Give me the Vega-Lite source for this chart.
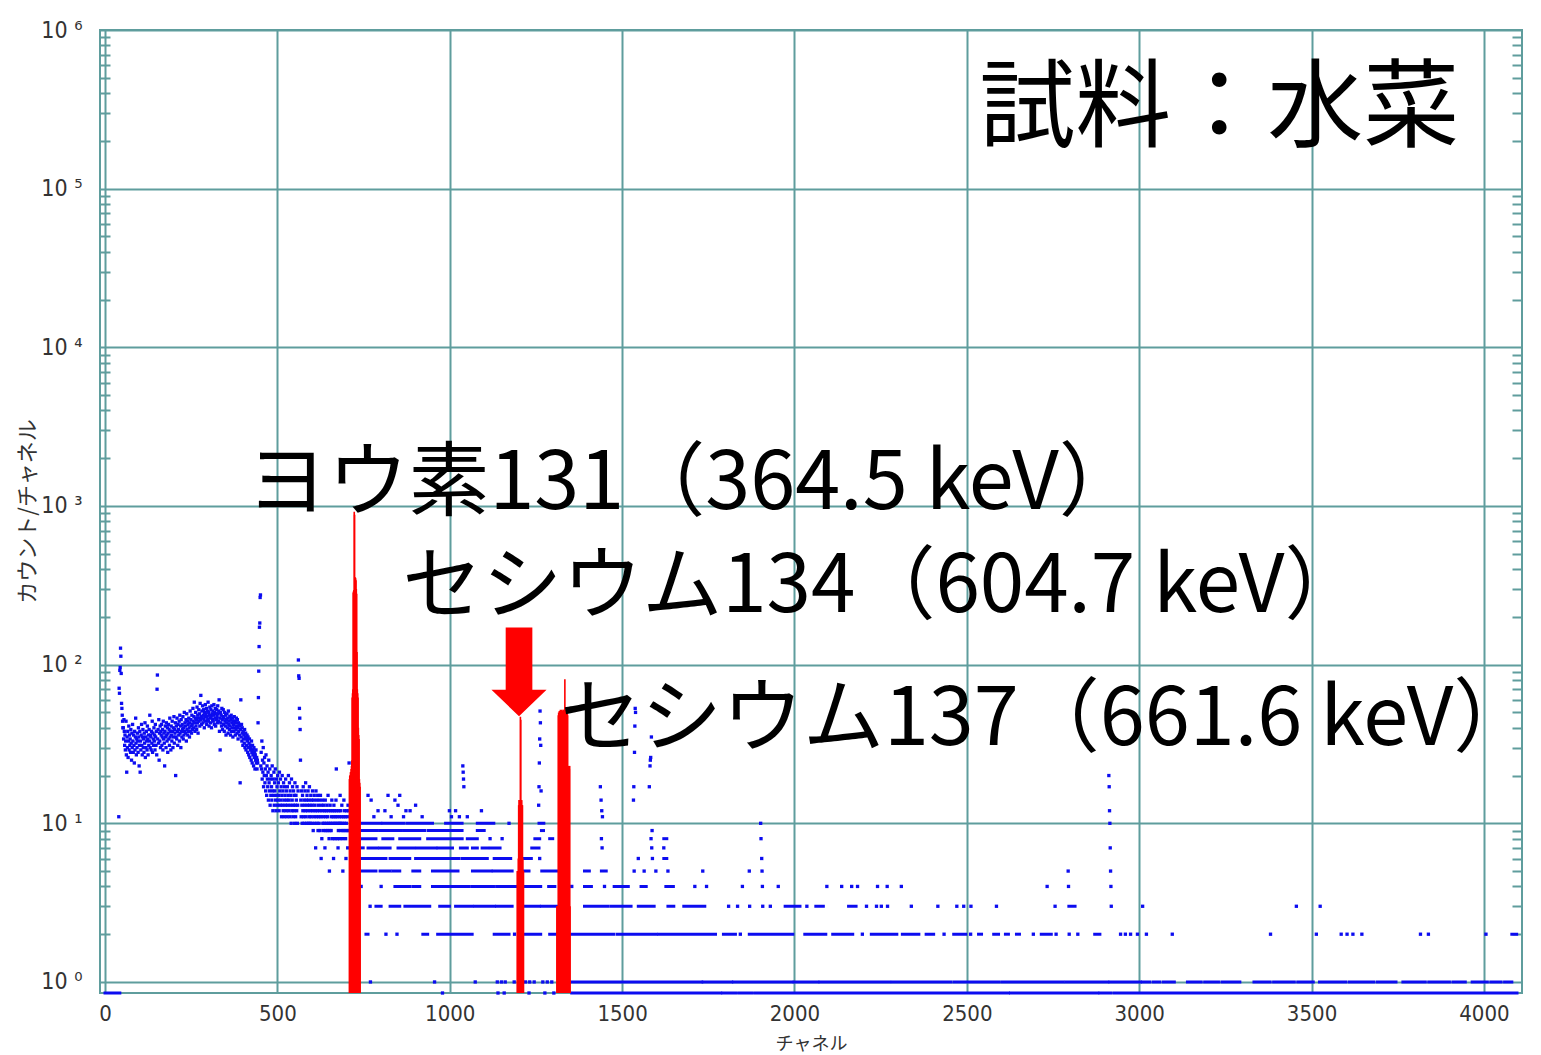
{
  "$schema": "https://vega.github.io/schema/vega-lite/v6.json",
  "width": 1422,
  "height": 963,
  "autosize": {"type": "none"},
  "padding": {"left": 100, "top": 30, "right": 19, "bottom": 62},
  "background": "white",
  "config": {
    "view": {"stroke": "#5f9d9d", "strokeWidth": 2},
    "axis": {
      "domain": false,
      "gridColor": "#5f9d9d",
      "gridWidth": 2,
      "gridOpacity": 1,
      "tickColor": "#5f9d9d",
      "tickWidth": 2,
      "labelFont": "Liberation Sans Narrow, DejaVu Sans Condensed, Liberation Sans",
      "labelColor": "#333333",
      "titleFont": "Noto Sans CJK JP",
      "titleFontWeight": "normal",
      "titleColor": "#333333"
    }
  },
  "datasets": {
    "counts": [
      {"c":40,"n":11},{"c":41,"n":71},{"c":42,"n":66},{"c":43,"n":92},{"c":44,"n":96},{"c":45,"n":127},{"c":46,"n":113},{"c":47,"n":88},{"c":48,"n":57},{"c":49,"n":53},{"c":50,"n":48},{"c":51,"n":44},{"c":52,"n":40},
      {"c":53,"n":40},{"c":54,"n":34},{"c":55,"n":45},{"c":56,"n":38},{"c":57,"n":31},{"c":58,"n":36},{"c":59,"n":29},{"c":60,"n":33},{"c":61,"n":44},{"c":62,"n":27},
      {"c":63,"n":21},{"c":64,"n":35},{"c":65,"n":30},{"c":66,"n":38},{"c":67,"n":26},{"c":68,"n":33},{"c":69,"n":41},{"c":70,"n":29},{"c":71,"n":36},{"c":72,"n":31},
      {"c":73,"n":34},{"c":74,"n":28},{"c":75,"n":39},{"c":76,"n":32},{"c":77,"n":25},{"c":78,"n":37},{"c":79,"n":30},{"c":80,"n":42},{"c":81,"n":33},{"c":82,"n":28},
      {"c":83,"n":36},{"c":84,"n":31},{"c":85,"n":24},{"c":86,"n":38},{"c":87,"n":29},{"c":88,"n":35},{"c":89,"n":46},{"c":90,"n":32},{"c":91,"n":27},{"c":92,"n":34},
      {"c":93,"n":30},{"c":94,"n":37},{"c":95,"n":33},{"c":96,"n":28},{"c":97,"n":40},{"c":98,"n":35},{"c":99,"n":23},{"c":100,"n":31},{"c":101,"n":38},{"c":102,"n":21},
      {"c":103,"n":33},{"c":104,"n":29},{"c":105,"n":36},{"c":106,"n":42},{"c":107,"n":31},{"c":108,"n":27},{"c":109,"n":35},{"c":110,"n":39},{"c":111,"n":30},{"c":112,"n":34},
      {"c":113,"n":28},{"c":114,"n":37},{"c":115,"n":32},{"c":116,"n":43},{"c":117,"n":26},{"c":118,"n":35},{"c":119,"n":30},{"c":120,"n":38},{"c":121,"n":33},{"c":122,"n":29},
      {"c":123,"n":41},{"c":124,"n":34},{"c":125,"n":27},{"c":126,"n":36},{"c":127,"n":31},{"c":128,"n":39},{"c":129,"n":33},{"c":130,"n":48},{"c":131,"n":30},{"c":132,"n":36},
      {"c":133,"n":35},{"c":134,"n":29},{"c":135,"n":38},{"c":136,"n":32},{"c":137,"n":44},{"c":138,"n":28},{"c":139,"n":37},{"c":140,"n":34},{"c":141,"n":31},{"c":142,"n":40},
      {"c":143,"n":33},{"c":144,"n":36},{"c":145,"n":29},{"c":146,"n":42},{"c":147,"n":35},{"c":148,"n":31},{"c":149,"n":38},{"c":150,"n":27},{"c":151,"n":70},{"c":152,"n":86},
      {"c":153,"n":34},{"c":154,"n":39},{"c":155,"n":32},{"c":156,"n":45},{"c":157,"n":25},{"c":158,"n":37},{"c":159,"n":33},{"c":160,"n":41},{"c":161,"n":30},{"c":162,"n":38},
      {"c":163,"n":36},{"c":164,"n":42},{"c":165,"n":31},{"c":166,"n":35},{"c":167,"n":39},{"c":168,"n":29},{"c":169,"n":44},{"c":170,"n":34},{"c":171,"n":37},{"c":172,"n":32},
      {"c":173,"n":23},{"c":174,"n":38},{"c":175,"n":41},{"c":176,"n":35},{"c":177,"n":30},{"c":178,"n":43},{"c":179,"n":36},{"c":180,"n":33},{"c":181,"n":40},{"c":182,"n":28},
      {"c":183,"n":37},{"c":184,"n":42},{"c":185,"n":34},{"c":186,"n":39},{"c":187,"n":31},{"c":188,"n":46},{"c":189,"n":35},{"c":190,"n":38},{"c":191,"n":29},{"c":192,"n":41},
      {"c":193,"n":36},{"c":194,"n":33},{"c":195,"n":44},{"c":196,"n":38},{"c":197,"n":30},{"c":198,"n":40},{"c":199,"n":35},{"c":200,"n":47},{"c":201,"n":32},{"c":202,"n":39},
      {"c":203,"n":37},{"c":204,"n":43},{"c":205,"n":20},{"c":206,"n":35},{"c":207,"n":41},{"c":208,"n":34},{"c":209,"n":46},{"c":210,"n":38},{"c":211,"n":31},{"c":212,"n":42},
      {"c":213,"n":39},{"c":214,"n":36},{"c":215,"n":44},{"c":216,"n":33},{"c":217,"n":48},{"c":218,"n":37},{"c":219,"n":41},{"c":220,"n":30},{"c":221,"n":45},{"c":222,"n":38},
      {"c":223,"n":35},{"c":224,"n":42},{"c":225,"n":39},{"c":226,"n":47},{"c":227,"n":34},{"c":228,"n":40},{"c":229,"n":36},{"c":230,"n":50},{"c":231,"n":38},{"c":232,"n":43},
      {"c":233,"n":41},{"c":234,"n":37},{"c":235,"n":45},{"c":236,"n":33},{"c":237,"n":49},{"c":238,"n":39},{"c":239,"n":44},{"c":240,"n":36},{"c":241,"n":42},{"c":242,"n":38},
      {"c":243,"n":46},{"c":244,"n":40},{"c":245,"n":35},{"c":246,"n":43},{"c":247,"n":51},{"c":248,"n":38},{"c":249,"n":45},{"c":250,"n":41},{"c":251,"n":37},{"c":252,"n":48},
      {"c":253,"n":42},{"c":254,"n":39},{"c":255,"n":53},{"c":256,"n":44},{"c":257,"n":40},{"c":258,"n":47},{"c":259,"n":58},{"c":260,"n":43},{"c":261,"n":38},{"c":262,"n":46},
      {"c":263,"n":50},{"c":264,"n":41},{"c":265,"n":45},{"c":266,"n":39},{"c":267,"n":54},{"c":268,"n":43},{"c":269,"n":48},{"c":270,"n":37},{"c":271,"n":46},{"c":272,"n":52},
      {"c":273,"n":44},{"c":274,"n":49},{"c":275,"n":41},{"c":276,"n":57},{"c":277,"n":45},{"c":278,"n":64},{"c":279,"n":47},{"c":280,"n":42},{"c":281,"n":51},{"c":282,"n":46},
      {"c":283,"n":55},{"c":284,"n":43},{"c":285,"n":48},{"c":286,"n":52},{"c":287,"n":45},{"c":288,"n":40},{"c":289,"n":50},{"c":290,"n":47},{"c":291,"n":56},{"c":292,"n":44},
      {"c":293,"n":49},{"c":294,"n":53},{"c":295,"n":42},{"c":296,"n":47},{"c":297,"n":51},{"c":298,"n":45},{"c":299,"n":58},{"c":300,"n":44},{"c":301,"n":50},{"c":302,"n":41},
      {"c":303,"n":48},{"c":304,"n":54},{"c":305,"n":46},{"c":306,"n":43},{"c":307,"n":52},{"c":308,"n":47},{"c":309,"n":40},{"c":310,"n":55},{"c":311,"n":49},{"c":312,"n":45},
      {"c":313,"n":51},{"c":314,"n":44},{"c":315,"n":48},{"c":316,"n":56},{"c":317,"n":42},{"c":318,"n":50},{"c":319,"n":46},{"c":320,"n":53},{"c":321,"n":41},{"c":322,"n":49},
      {"c":323,"n":45},{"c":324,"n":52},{"c":325,"n":47},{"c":326,"n":43},{"c":327,"n":55},{"c":328,"n":49},{"c":329,"n":44},{"c":330,"n":51},{"c":331,"n":60},{"c":332,"n":38},
      {"c":333,"n":46},{"c":334,"n":29},{"c":335,"n":50},{"c":336,"n":43},{"c":337,"n":48},{"c":338,"n":41},{"c":339,"n":53},{"c":340,"n":45},{"c":341,"n":39},{"c":342,"n":47},
      {"c":343,"n":52},{"c":344,"n":42},{"c":345,"n":46},{"c":346,"n":38},{"c":347,"n":50},{"c":348,"n":44},{"c":349,"n":41},{"c":350,"n":48},{"c":351,"n":36},{"c":352,"n":45},
      {"c":353,"n":43},{"c":354,"n":49},{"c":355,"n":40},{"c":356,"n":46},{"c":357,"n":37},{"c":358,"n":51},{"c":359,"n":42},{"c":360,"n":44},{"c":361,"n":39},{"c":362,"n":47},
      {"c":363,"n":41},{"c":364,"n":36},{"c":365,"n":45},{"c":366,"n":48},{"c":367,"n":38},{"c":368,"n":43},{"c":369,"n":40},{"c":370,"n":46},{"c":371,"n":35},{"c":372,"n":44},
      {"c":373,"n":42},{"c":374,"n":38},{"c":375,"n":47},{"c":376,"n":40},{"c":377,"n":44},{"c":378,"n":36},{"c":379,"n":43},{"c":380,"n":39},{"c":381,"n":46},{"c":382,"n":41},
      {"c":383,"n":37},{"c":384,"n":45},{"c":385,"n":40},{"c":386,"n":34},{"c":387,"n":43},{"c":388,"n":38},{"c":389,"n":42},{"c":390,"n":36},{"c":391,"n":41},{"c":392,"n":18},
      {"c":393,"n":39},{"c":394,"n":60},{"c":395,"n":35},{"c":396,"n":42},{"c":397,"n":33},{"c":398,"n":40},{"c":399,"n":37},{"c":400,"n":31},{"c":401,"n":38},{"c":402,"n":34},
      {"c":403,"n":36},{"c":404,"n":32},{"c":405,"n":39},{"c":406,"n":30},{"c":407,"n":35},{"c":408,"n":37},{"c":409,"n":29},{"c":410,"n":34},{"c":411,"n":31},{"c":412,"n":36},
      {"c":413,"n":33},{"c":414,"n":28},{"c":415,"n":35},{"c":416,"n":30},{"c":417,"n":27},{"c":418,"n":32},{"c":419,"n":34},{"c":420,"n":26},{"c":421,"n":31},{"c":422,"n":29},
      {"c":423,"n":30},{"c":424,"n":25},{"c":425,"n":33},{"c":426,"n":28},{"c":427,"n":24},{"c":428,"n":31},{"c":429,"n":27},{"c":430,"n":29},{"c":431,"n":23},{"c":432,"n":30},
      {"c":433,"n":26},{"c":434,"n":28},{"c":435,"n":22},{"c":436,"n":27},{"c":437,"n":25},{"c":438,"n":29},{"c":439,"n":24},{"c":440,"n":26},{"c":441,"n":22},{"c":442,"n":25},
      {"c":443,"n":24},{"c":444,"n":43},{"c":445,"n":62},{"c":446,"n":91},{"c":447,"n":130},{"c":448,"n":172},{"c":449,"n":183},{"c":450,"n":265},{"c":451,"n":275},{"c":452,"n":23},
      {"c":453,"n":28},{"c":454,"n":22},{"c":455,"n":33},{"c":456,"n":19},{"c":457,"n":25},{"c":458,"n":21},{"c":459,"n":30},{"c":460,"n":17},{"c":461,"n":24},{"c":462,"n":20},
      {"c":463,"n":26},{"c":464,"n":18},{"c":465,"n":22},{"c":466,"n":16},{"c":467,"n":27},{"c":468,"n":20},{"c":469,"n":15},{"c":470,"n":23},{"c":471,"n":19},{"c":472,"n":17},
      {"c":473,"n":21},{"c":474,"n":14},{"c":475,"n":25},{"c":476,"n":18},{"c":477,"n":16},{"c":478,"n":22},{"c":479,"n":13},{"c":480,"n":19},{"c":481,"n":15},{"c":482,"n":20},
      {"c":483,"n":17},{"c":484,"n":14},{"c":485,"n":23},{"c":486,"n":16},{"c":487,"n":12},{"c":488,"n":19},{"c":489,"n":15},{"c":490,"n":21},{"c":491,"n":13},{"c":492,"n":18},
      {"c":493,"n":16},{"c":494,"n":22},{"c":495,"n":14},{"c":496,"n":12},{"c":497,"n":19},{"c":498,"n":15},{"c":499,"n":17},{"c":500,"n":13},{"c":501,"n":20},{"c":502,"n":14},
      {"c":503,"n":18},{"c":504,"n":15},{"c":505,"n":12},{"c":506,"n":21},{"c":507,"n":16},{"c":508,"n":13},{"c":509,"n":19},{"c":510,"n":14},{"c":511,"n":17},{"c":512,"n":11},
      {"c":513,"n":15},{"c":514,"n":20},{"c":515,"n":13},{"c":516,"n":16},{"c":517,"n":12},{"c":518,"n":18},{"c":519,"n":14},{"c":520,"n":11},{"c":521,"n":17},{"c":522,"n":15},
      {"c":523,"n":13},{"c":524,"n":19},{"c":525,"n":12},{"c":526,"n":16},{"c":527,"n":14},{"c":528,"n":11},{"c":529,"n":17},{"c":530,"n":13},{"c":531,"n":15},{"c":532,"n":20},
      {"c":533,"n":12},{"c":534,"n":14},{"c":535,"n":18},{"c":536,"n":11},{"c":537,"n":16},{"c":538,"n":13},{"c":539,"n":15},{"c":540,"n":10},{"c":541,"n":19},{"c":542,"n":12},
      {"c":543,"n":14},{"c":544,"n":17},{"c":545,"n":11},{"c":546,"n":13},{"c":547,"n":16},{"c":548,"n":12},{"c":549,"n":15},{"c":550,"n":10},{"c":551,"n":18},{"c":552,"n":13},
      {"c":553,"n":11},{"c":554,"n":15},{"c":555,"n":14},{"c":556,"n":12},{"c":557,"n":17},{"c":558,"n":10},{"c":559,"n":13},{"c":560,"n":16},{"c":561,"n":107},{"c":562,"n":85},
      {"c":563,"n":82},{"c":564,"n":53},{"c":565,"n":46},{"c":566,"n":39},{"c":567,"n":25},{"c":568,"n":14},{"c":569,"n":11},{"c":570,"n":16},{"c":571,"n":13},{"c":572,"n":10},
      {"c":573,"n":15},{"c":574,"n":12},{"c":575,"n":17},{"c":576,"n":11},{"c":577,"n":14},{"c":578,"n":10},{"c":579,"n":13},{"c":580,"n":16},{"c":581,"n":12},{"c":582,"n":18},
      {"c":583,"n":11},{"c":584,"n":14},{"c":585,"n":10},{"c":586,"n":15},{"c":587,"n":13},{"c":588,"n":12},{"c":589,"n":16},{"c":590,"n":10},{"c":591,"n":14},{"c":592,"n":11},
      {"c":593,"n":17},{"c":594,"n":13},{"c":595,"n":10},{"c":596,"n":12},{"c":597,"n":15},{"c":598,"n":11},{"c":599,"n":14},{"c":600,"n":10},{"c":601,"n":13},{"c":602,"n":16},
      {"c":603,"n":12},{"c":604,"n":9},{"c":605,"n":14},{"c":606,"n":11},{"c":607,"n":15},{"c":608,"n":10},{"c":609,"n":13},{"c":610,"n":12},{"c":611,"n":7},{"c":612,"n":16},
      {"c":613,"n":11},{"c":614,"n":14},{"c":615,"n":10},{"c":616,"n":12},{"c":617,"n":15},{"c":618,"n":9},{"c":619,"n":13},{"c":620,"n":11},{"c":621,"n":10},{"c":622,"n":14},
      {"c":623,"n":12},{"c":624,"n":9},{"c":625,"n":15},{"c":626,"n":11},{"c":627,"n":6},{"c":628,"n":13},{"c":629,"n":8},{"c":630,"n":12},{"c":631,"n":14},{"c":632,"n":10},
      {"c":633,"n":11},{"c":634,"n":9},{"c":635,"n":13},{"c":636,"n":10},{"c":637,"n":12},{"c":638,"n":7},{"c":639,"n":14},{"c":640,"n":11},{"c":641,"n":9},{"c":642,"n":12},
      {"c":643,"n":10},{"c":644,"n":13},{"c":645,"n":9},{"c":646,"n":11},{"c":647,"n":15},{"c":648,"n":10},{"c":649,"n":12},{"c":650,"n":8},{"c":651,"n":5},{"c":652,"n":9},
      {"c":653,"n":13},{"c":654,"n":10},{"c":655,"n":12},{"c":656,"n":9},{"c":657,"n":11},{"c":658,"n":14},{"c":659,"n":10},{"c":660,"n":8},{"c":661,"n":12},{"c":662,"n":11},
      {"c":663,"n":6},{"c":664,"n":13},{"c":665,"n":10},{"c":666,"n":12},{"c":667,"n":8},{"c":668,"n":11},{"c":669,"n":10},{"c":670,"n":14},{"c":671,"n":22},{"c":672,"n":12},
      {"c":673,"n":11},{"c":674,"n":8},{"c":675,"n":10},{"c":676,"n":7},{"c":677,"n":9},{"c":678,"n":12},{"c":679,"n":10},{"c":680,"n":11},{"c":681,"n":8},{"c":682,"n":15},
      {"c":683,"n":10},{"c":684,"n":12},{"c":685,"n":9},{"c":686,"n":11},{"c":687,"n":13},{"c":688,"n":10},{"c":689,"n":8},{"c":690,"n":5},{"c":691,"n":9},{"c":692,"n":11},
      {"c":693,"n":14},{"c":694,"n":10},{"c":695,"n":12},{"c":696,"n":9},{"c":697,"n":11},{"c":698,"n":8},{"c":699,"n":6},{"c":700,"n":10},{"c":701,"n":12},{"c":702,"n":9},
      {"c":703,"n":11},{"c":704,"n":7},{"c":705,"n":13},{"c":706,"n":9},{"c":707,"n":12},{"c":708,"n":24},
      {"c":763,"n":15},{"c":772,"n":14},{"c":780,"n":11},{"c":792,"n":12},{"c":812,"n":12},{"c":821,"n":15},{"c":830,"n":11},{"c":841,"n":14},{"c":850,"n":13},{"c":855,"n":15},
      {"c":866,"n":11},{"c":873,"n":12},{"c":885,"n":12},{"c":901,"n":13},{"c":920,"n":11},{"c":999,"n":12},{"c":1005,"n":11},{"c":1017,"n":12},{"c":1028,"n":11},
      {"c":1038,"n":23},{"c":1039,"n":21},{"c":1040,"n":19},{"c":1041,"n":17},{"c":1051,"n":11},{"c":1092,"n":12},
      {"c":1258,"n":13},{"c":1259,"n":17},{"c":1260,"n":24},{"c":1261,"n":34},{"c":1262,"n":51},{"c":1263,"n":43},{"c":1264,"n":31},{"c":1265,"n":16},
      {"c":1437,"n":17},{"c":1439,"n":14},{"c":1441,"n":12},{"c":1443,"n":11},
      {"c":1533,"n":14},{"c":1534,"n":17},{"c":1536,"n":28},{"c":1537,"n":41},{"c":1538,"n":53},{"c":1539,"n":50},
      {"c":1579,"n":17},{"c":1581,"n":23},{"c":1582,"n":25},{"c":1583,"n":26},{"c":1585,"n":35},{"c":1587,"n":9},
      {"c":1902,"n":10},{"c":1903,"n":8},{"c":1905,"n":6},
      {"c":2912,"n":20},{"c":2913,"n":17},{"c":2914,"n":12},{"c":2915,"n":10},{"c":2916,"n":7},
      {"c":1172,"n":10},
      {"c":1117,"n":8},{"c":1152,"n":8},{"c":1440,"n":8},{"c":1584,"n":8},
      {"c":1442,"n":7},{"c":1586,"n":7},{"c":1621,"n":7},
      {"c":1261,"n":6},{"c":1547,"n":6},{"c":1588,"n":6},
      {"c":1535,"n":5},{"c":1564,"n":5},{"c":1598,"n":5},{"c":1633,"n":5},{"c":1734,"n":5},{"c":1869,"n":5},{"c":1906,"n":5},{"c":2794,"n":5},{"c":2917,"n":5},
      {"c":743,"n":4},{"c":801,"n":4},{"c":1354,"n":4},{"c":1449,"n":4},{"c":1711,"n":4},{"c":1745,"n":4},{"c":1849,"n":4},{"c":1907,"n":4},{"c":1953,"n":4},{"c":2094,"n":4},
      {"c":2137,"n":4},{"c":2166,"n":4},{"c":2183,"n":4},{"c":2241,"n":4},{"c":2269,"n":4},{"c":2310,"n":4},{"c":2733,"n":4},{"c":2795,"n":4},{"c":2918,"n":4},
      {"c":769,"n":3},{"c":1809,"n":3},{"c":1835,"n":3},{"c":1870,"n":3},{"c":1908,"n":3},{"c":1930,"n":3},{"c":2036,"n":3},{"c":2209,"n":3},{"c":2238,"n":3},{"c":2252,"n":3},
      {"c":2270,"n":3},{"c":2339,"n":3},{"c":2416,"n":3},{"c":2471,"n":3},{"c":2491,"n":3},{"c":2512,"n":3},{"c":2586,"n":3},{"c":2756,"n":3},{"c":2919,"n":3},{"c":3010,"n":3},
      {"c":3456,"n":3},{"c":3525,"n":3},
      {"c":815,"n":2},{"c":847,"n":2},{"c":1188,"n":2},{"c":1843,"n":2},{"c":2197,"n":2},{"c":2434,"n":2},{"c":2511,"n":2},{"c":2693,"n":2},{"c":2759,"n":2},{"c":2797,"n":2},
      {"c":2822,"n":2},{"c":2946,"n":2},{"c":2960,"n":2},{"c":2975,"n":2},{"c":2995,"n":2},{"c":3021,"n":2},{"c":3096,"n":2},{"c":3381,"n":2},{"c":3514,"n":2},{"c":3586,"n":2},
      {"c":3603,"n":2},{"c":3620,"n":2},{"c":3646,"n":2},{"c":3816,"n":2},{"c":3839,"n":2},{"c":4006,"n":2},
      {"c":770,"n":1},{"c":956,"n":1},{"c":1074,"n":1},{"c":1138,"n":1},{"c":1150,"n":1},{"c":1161,"n":1},{"c":1187,"n":1},{"c":1220,"n":1},{"c":1232,"n":1},{"c":1245,"n":1},
      {"c":1270,"n":1},{"c":1283,"n":1},{"c":1296,"n":1},
      {"c":979,"n":0},{"c":1140,"n":0},{"c":1158,"n":0},{"c":1230,"n":0},{"c":1276,"n":0},{"c":1302,"n":0}
    ],
    "runs": [
      {"c":743,"c2":800,"n":10},{"c":806,"c2":870,"n":10},{"c":876,"c2":950,"n":10},{"c":988,"c2":1037,"n":10},{"c":1080,"c2":1132,"n":10},{"c":1259,"c2":1273,"n":10},
      {"c":743,"c2":790,"n":9},{"c":797,"c2":860,"n":9},{"c":866,"c2":930,"n":9},{"c":937,"c2":1008,"n":9},{"c":1014,"c2":1037,"n":9},{"c":1080,"c2":1100,"n":9},{"c":1266,"c2":1272,"n":9},
      {"c":743,"c2":786,"n":8},{"c":806,"c2":835,"n":8},{"c":855,"c2":913,"n":8},{"c":936,"c2":1037,"n":8},{"c":1051,"c2":1080,"n":8},{"c":1247,"c2":1261,"n":8},{"c":1290,"c2":1302,"n":8},{"c":1621,"c2":1633,"n":8},
      {"c":743,"c2":749,"n":7},{"c":763,"c2":790,"n":7},{"c":797,"c2":827,"n":7},{"c":850,"c2":900,"n":7},{"c":906,"c2":960,"n":7},{"c":966,"c2":1008,"n":7},{"c":1031,"c2":1051,"n":7},
      {"c":1066,"c2":1080,"n":7},{"c":1094,"c2":1110,"n":7},{"c":1118,"c2":1146,"n":7},{"c":1238,"c2":1259,"n":7},
      {"c":743,"c2":815,"n":6},{"c":827,"c2":884,"n":6},{"c":901,"c2":960,"n":6},{"c":966,"c2":1030,"n":6},{"c":1036,"c2":1109,"n":6},{"c":1129,"c2":1181,"n":6},{"c":1215,"c2":1238,"n":6},{"c":1621,"c2":1633,"n":6},
      {"c":743,"c2":786,"n":5},{"c":798,"c2":827,"n":5},{"c":835,"c2":855,"n":5},{"c":893,"c2":913,"n":5},{"c":950,"c2":1028,"n":5},{"c":1066,"c2":1120,"n":5},{"c":1126,"c2":1181,"n":5},
      {"c":1215,"c2":1230,"n":5},{"c":1267,"c2":1310,"n":5},{"c":1391,"c2":1405,"n":5},{"c":1440,"c2":1454,"n":5},
      {"c":841,"c2":884,"n":4},{"c":893,"c2":913,"n":4},{"c":950,"c2":979,"n":4},{"c":983,"c2":1060,"n":4},{"c":1066,"c2":1130,"n":4},{"c":1136,"c2":1195,"n":4},{"c":1216,"c2":1267,"n":4},
      {"c":1287,"c2":1305,"n":4},{"c":1391,"c2":1411,"n":4},{"c":1477,"c2":1518,"n":4},{"c":1555,"c2":1570,"n":4},{"c":1627,"c2":1650,"n":4},
      {"c":786,"c2":801,"n":3},{"c":827,"c2":855,"n":3},{"c":870,"c2":942,"n":3},{"c":971,"c2":999,"n":3},{"c":1017,"c2":1066,"n":3},{"c":1072,"c2":1130,"n":3},{"c":1136,"c2":1181,"n":3},
      {"c":1216,"c2":1260,"n":3},{"c":1266,"c2":1310,"n":3},{"c":1391,"c2":1460,"n":3},{"c":1469,"c2":1526,"n":3},{"c":1547,"c2":1593,"n":3},{"c":1633,"c2":1650,"n":3},{"c":1679,"c2":1742,"n":3},
      {"c":1973,"c2":2016,"n":3},{"c":2062,"c2":2088,"n":3},{"c":2157,"c2":2180,"n":3},{"c":2796,"c2":2814,"n":3},
      {"c":757,"c2":763,"n":2},{"c":922,"c2":936,"n":2},{"c":965,"c2":1066,"n":2},{"c":1129,"c2":1172,"n":2},{"c":1216,"c2":1267,"n":2},{"c":1290,"c2":1310,"n":2},{"c":1350,"c2":1480,"n":2},
      {"c":1486,"c2":1600,"n":2},{"c":1606,"c2":1771,"n":2},{"c":1794,"c2":1829,"n":2},{"c":1869,"c2":1996,"n":2},{"c":2030,"c2":2094,"n":2},{"c":2111,"c2":2169,"n":2},{"c":2223,"c2":2298,"n":2},
      {"c":2313,"c2":2362,"n":2},{"c":2382,"c2":2405,"n":2},{"c":2462,"c2":2497,"n":2},{"c":2534,"c2":2543,"n":2},{"c":2578,"c2":2592,"n":2},{"c":2612,"c2":2621,"n":2},{"c":2644,"c2":2655,"n":2},
      {"c":2716,"c2":2745,"n":2},{"c":2871,"c2":2886,"n":2},{"c":4081,"c2":4095,"n":2},
      {"c":1348,"c2":1731,"n":1},{"c":1735,"c2":1818,"n":1},{"c":1823,"c2":1993,"n":1},{"c":1999,"c2":2068,"n":1},{"c":2074,"c2":2276,"n":1},{"c":2284,"c2":2454,"n":1},{"c":2463,"c2":2592,"n":1},
      {"c":2601,"c2":2780,"n":1},{"c":2788,"c2":2909,"n":1},{"c":2915,"c2":3004,"n":1},{"c":3010,"c2":3030,"n":1},{"c":3040,"c2":3060,"n":1},{"c":3070,"c2":3102,"n":1},{"c":3140,"c2":3180,"n":1},
      {"c":3190,"c2":3230,"n":1},{"c":3240,"c2":3292,"n":1},{"c":3333,"c2":3380,"n":1},{"c":3390,"c2":3450,"n":1},{"c":3460,"c2":3505,"n":1},{"c":3523,"c2":3600,"n":1},{"c":3610,"c2":3680,"n":1},
      {"c":3690,"c2":3745,"n":1},{"c":3765,"c2":3830,"n":1},{"c":3840,"c2":3900,"n":1},{"c":3910,"c2":3946,"n":1},{"c":3966,"c2":4010,"n":1},{"c":4020,"c2":4050,"n":1},{"c":4060,"c2":4081,"n":1},
      {"c":0,"c2":43,"n":0},{"c":1354,"c2":1786,"n":0},{"c":1792,"c2":1829,"n":0},{"c":1838,"c2":1878,"n":0},{"c":1887,"c2":2621,"n":0},{"c":2627,"c2":2880,"n":0},{"c":2886,"c2":2918,"n":0},
      {"c":2927,"c2":4096,"n":0}
    ],
    "roi": [
      {"c":709,"n":19},{"c":710,"n":20},{"c":711,"n":20},{"c":712,"n":21},{"c":713,"n":21},{"c":714,"n":22},{"c":715,"n":23},{"c":716,"n":25},
      {"c":717,"n":62},{"c":718,"n":66},{"c":719,"n":70},
      {"c":720,"n":285},{"c":721,"n":290},{"c":722,"n":295},{"c":723,"n":920},{"c":724,"n":880},{"c":725,"n":300},{"c":726,"n":356},{"c":727,"n":350},{"c":728,"n":340},
      {"c":729,"n":300},{"c":730,"n":280},{"c":731,"n":120},
      {"c":732,"n":70},{"c":733,"n":66},{"c":734,"n":62},{"c":735,"n":40},{"c":736,"n":36},{"c":737,"n":34},{"c":738,"n":19},{"c":739,"n":18},{"c":740,"n":17},
      {"c":1196,"n":5},{"c":1197,"n":5},{"c":1198,"n":5},{"c":1199,"n":6},{"c":1200,"n":13},{"c":1201,"n":14},{"c":1202,"n":13},{"c":1203,"n":14},{"c":1204,"n":13},{"c":1205,"n":47},
      {"c":1206,"n":45},{"c":1207,"n":14},{"c":1208,"n":13},{"c":1209,"n":14},{"c":1210,"n":13},{"c":1211,"n":13},{"c":1212,"n":6},{"c":1213,"n":5},{"c":1214,"n":5},
      {"c":1311,"n":3},{"c":1312,"n":3},{"c":1313,"n":3},{"c":1314,"n":3},
      {"c":1315,"n":48},{"c":1316,"n":50},{"c":1317,"n":49},{"c":1318,"n":51},{"c":1319,"n":48},{"c":1320,"n":50},{"c":1321,"n":52},{"c":1322,"n":50},{"c":1323,"n":49},{"c":1324,"n":51},
      {"c":1325,"n":52},{"c":1326,"n":50},{"c":1327,"n":48},{"c":1328,"n":51},{"c":1329,"n":52},{"c":1330,"n":50},{"c":1331,"n":49},{"c":1332,"n":52},{"c":1333,"n":51},{"c":1334,"n":81},
      {"c":1335,"n":52},{"c":1336,"n":50},{"c":1337,"n":51},{"c":1338,"n":49},{"c":1339,"n":48},{"c":1340,"n":50},{"c":1341,"n":49},{"c":1342,"n":48},
      {"c":1343,"n":23},{"c":1344,"n":22},{"c":1345,"n":23},{"c":1346,"n":23},{"c":1347,"n":22},{"c":1348,"n":23},{"c":1349,"n":3}
    ],
    "pointer": [{"c": 1201, "n": 90}],
    "peaks": [
      {"label": "ヨウ素131（364.5 keV）", "c": 1706, "n": 1356},
      {"label": "セシウム137（661.6 keV）", "c": 2733, "n": 44.2}
    ],
    "peak134": [{"label": "セシウム134（604.7 keV）", "c": 2258, "n": 304}],
    "sample": [{"label": "試料：水菜", "c": 3232, "n": 313000}]
  },
  "layer": [
    {
      "data": {"name": "runs"},
      "mark": {"type": "rule", "color": "#0c0cf0", "strokeWidth": 3, "strokeCap": "square", "invalid": "show"},
      "encoding": {
        "x": {
          "field": "c", "type": "quantitative", "scale": {"domain": [0, 4096], "nice": false, "zero": false},
          "axis": {
            "values": [0, 500, 1000, 1500, 2000, 2500, 3000, 3500, 4000], "format": "d",
            "grid": true, "ticks": false, "labelFontSize": 22, "labelPadding": 10, "labelFlush": false,
            "title": "チャネル", "titleFontSize": 18, "titleY": 56, "titleBaseline": "alphabetic"
          }
        },
        "x2": {"field": "c2"},
        "y": {
          "field": "n", "type": "quantitative",
          "scale": {"type": "log", "domain": [0.852, 1000000], "nice": false, "clamp": true},
          "axis": {
            "orient": "left", "title": null, "labels": false, "grid": false, "ticks": true, "tickSize": -10,
            "values": [2,3,4,5,6,7,8,9,20,30,40,50,60,70,80,90,200,300,400,500,600,700,800,900,2000,3000,4000,5000,6000,7000,8000,9000,20000,30000,40000,50000,60000,70000,80000,90000,200000,300000,400000,500000,600000,700000,800000,900000]
          }
        },
        "strokeDash": {"condition": {"test": "datum.n >= 2", "value": [3, 1.5]}, "value": [1, 0]}
      }
    },
    {
      "data": {"name": "counts"},
      "mark": {"type": "square", "color": "#0c0cf0", "size": 11, "opacity": 1, "invalid": "show"},
      "encoding": {
        "x": {"field": "c", "type": "quantitative", "scale": {"domain": [0, 4096], "nice": false, "zero": false}},
        "y": {
          "field": "n", "type": "quantitative",
          "scale": {"type": "log", "domain": [0.852, 1000000], "nice": false, "clamp": true},
          "axis": {
            "orient": "left", "values": [1, 10, 100, 1000, 10000, 100000, 1000000],
            "grid": true, "ticks": false, "labelFontSize": 23, "labelPadding": 18, "labelFlush": false,
            "labelExpr": "'10 ' + ['⁰','¹','²','³','⁴','⁵','⁶'][round(log(datum.value) / LN10)]",
            "title": "カウント/チャネル", "titleFontSize": 22, "titleX": -73, "titleY": 481,
            "titleAlign": "center", "titleBaseline": "middle", "titleAngle": -90
          }
        }
      }
    },
    {
      "data": {"name": "roi"},
      "mark": {"type": "bar", "color": "#ff0000", "size": 1.6, "orient": "vertical"},
      "encoding": {
        "x": {"field": "c", "type": "quantitative", "scale": {"domain": [0, 4096], "nice": false, "zero": false}},
        "y": {
          "field": "n", "type": "quantitative",
          "scale": {"type": "log", "domain": [0.852, 1000000], "nice": false, "clamp": true},
          "axis": {
            "orient": "right", "title": null, "labels": false, "grid": false, "ticks": true, "tickSize": -10,
            "values": [2,3,4,5,6,7,8,9,20,30,40,50,60,70,80,90,200,300,400,500,600,700,800,900,2000,3000,4000,5000,6000,7000,8000,9000,20000,30000,40000,50000,60000,70000,80000,90000,200000,300000,400000,500000,600000,700000,800000,900000]
          }
        }
      }
    },
    {
      "data": {"name": "pointer"},
      "mark": {"type": "point", "shape": "M-0.3,-1L0.3,-1L0.3,0.4L0.62,0.4L0,1L-0.62,0.4L-0.3,0.4Z", "size": 7900, "filled": true, "color": "#ff0000", "opacity": 1},
      "encoding": {
        "x": {"field": "c", "type": "quantitative", "scale": {"domain": [0, 4096], "nice": false, "zero": false}},
        "y": {"field": "n", "type": "quantitative", "scale": {"type": "log", "domain": [0.852, 1000000], "nice": false, "clamp": true}, "axis": null}
      }
    },
    {
      "data": {"name": "peaks"},
      "mark": {"type": "text", "font": "Noto Sans CJK JP", "fontSize": 81, "color": "#000000", "align": "center", "baseline": "middle"},
      "encoding": {
        "x": {"field": "c", "type": "quantitative", "scale": {"domain": [0, 4096], "nice": false, "zero": false}},
        "y": {"field": "n", "type": "quantitative", "scale": {"type": "log", "domain": [0.852, 1000000], "nice": false, "clamp": true}, "axis": null},
        "text": {"field": "label"}
      }
    },
    {
      "data": {"name": "peak134"},
      "mark": {"type": "text", "font": "Noto Sans CJK JP", "fontSize": 80, "color": "#000000", "align": "center", "baseline": "middle"},
      "encoding": {
        "x": {"field": "c", "type": "quantitative", "scale": {"domain": [0, 4096], "nice": false, "zero": false}},
        "y": {"field": "n", "type": "quantitative", "scale": {"type": "log", "domain": [0.852, 1000000], "nice": false, "clamp": true}, "axis": null},
        "text": {"field": "label"}
      }
    },
    {
      "data": {"name": "sample"},
      "mark": {"type": "text", "font": "Noto Sans CJK JP", "fontSize": 96, "color": "#000000", "align": "center", "baseline": "middle"},
      "encoding": {
        "x": {"field": "c", "type": "quantitative", "scale": {"domain": [0, 4096], "nice": false, "zero": false}},
        "y": {"field": "n", "type": "quantitative", "scale": {"type": "log", "domain": [0.852, 1000000], "nice": false, "clamp": true}, "axis": null},
        "text": {"field": "label"}
      }
    }
  ],
  "resolve": {"axis": {"y": "independent"}}
}
